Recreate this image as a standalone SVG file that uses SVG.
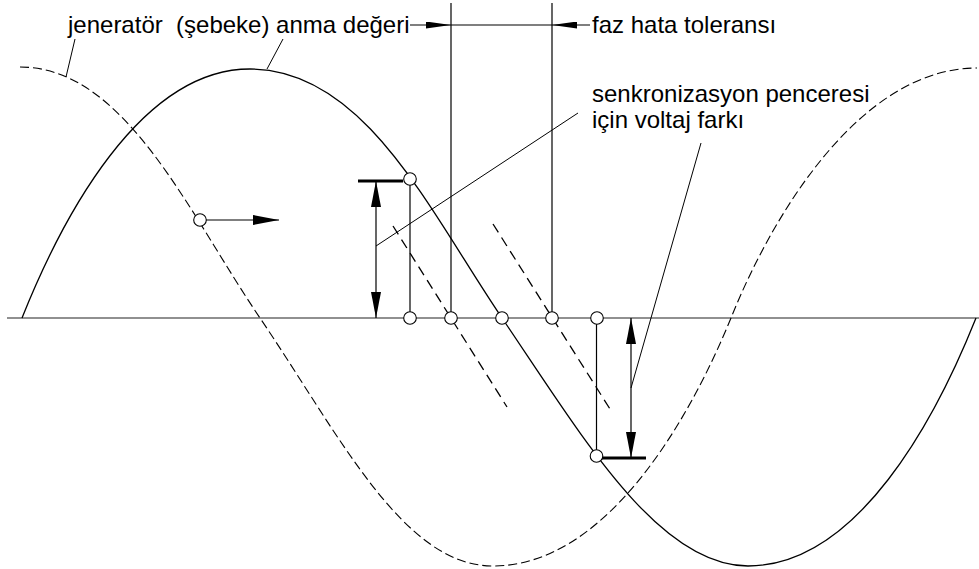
<svg xmlns="http://www.w3.org/2000/svg" width="979" height="569" viewBox="0 0 979 569">
<style>
.t{font-family:"Liberation Sans",Arial,sans-serif;font-size:24px;fill:#000;white-space:pre}
.ln{stroke:#000;stroke-width:1.2;fill:none}
.thin{stroke:#000;stroke-width:1;fill:none}
.axis{stroke:#222;stroke-width:1.1;fill:none}
.wave{stroke:#000;stroke-width:1.3;fill:none}
.dwave{stroke:#000;stroke-width:1.1;fill:none;stroke-dasharray:9 4}
.dl{stroke:#000;stroke-width:1.3;fill:none;stroke-dasharray:10 6}
.tick{stroke:#000;stroke-width:3;fill:none}
.pt{fill:#fff;stroke:#000;stroke-width:1.1}
</style>
<defs>
<marker id="ah" viewBox="0 0 26 10" refX="26" refY="5" markerWidth="26" markerHeight="10" markerUnits="userSpaceOnUse" orient="auto-start-reverse"><path d="M0,0 L26,5 L0,10 z" fill="#000"/></marker>
<marker id="ahs" viewBox="0 0 25 7" refX="25" refY="3.5" markerWidth="25" markerHeight="7" markerUnits="userSpaceOnUse" orient="auto-start-reverse"><path d="M0,0 L25,3.5 L0,7 z" fill="#000"/></marker>
</defs>
<rect width="979" height="569" fill="#fff"/>
<g id="axis"><line x1="7" y1="318" x2="979" y2="318" class="axis"/></g>
<g id="wave-solid"><path class="wave" d="M22,318 C62,218 140,69 250,69 C365,69 430,212 502,318 C582,436 658,566 748,566 C858,566 936,418 976,318"/></g>
<g id="wave-dashed"><path class="dwave" d="M20,67 C125,67 188,212 260,318 C340,436 403,566 493,566 C603,566 686,428 731,318 C771,218 859,68 977,68"/></g>
<g id="window-lines">
<path class="dl" d="M393,226 L507,407"/>
<path class="dl" d="M493,224 L610,409"/>
</g>
<g id="connectors">
<path class="ln" d="M410,25 H451" marker-end="url(#ahs)"/>
<path class="ln" d="M451,25 H552"/>
<path class="ln" d="M590,25 H552" marker-end="url(#ahs)"/>
<path class="ln" d="M451,3 V318"/>
<path class="ln" d="M552,3 V318"/>
<path class="ln" d="M376,181 V318" marker-start="url(#ah)" marker-end="url(#ah)"/>
<path class="tick" d="M358,181 H403"/>
<path class="ln" d="M410,179 V318"/>
<path class="ln" d="M596.5,318 V456"/>
<path class="ln" d="M631,318 V458" marker-start="url(#ah)" marker-end="url(#ah)"/>
<path class="tick" d="M602,458 H646"/>
<path class="ln" d="M206,220 H279" marker-end="url(#ah)"/>
<path class="thin" d="M75,39 L66,77"/>
<path class="thin" d="M283,39 L267,69"/>
<path class="thin" d="M578,113 L376,246"/>
<path class="thin" d="M701,143 L631,388"/>
</g>
<g id="points">
<circle class="pt" cx="200" cy="220" r="6.3"/>
<circle class="pt" cx="410" cy="179" r="6.3"/>
<circle class="pt" cx="410" cy="318" r="6.3"/>
<circle class="pt" cx="451" cy="318" r="6.3"/>
<circle class="pt" cx="502" cy="318" r="6.3"/>
<circle class="pt" cx="552" cy="318" r="6.3"/>
<circle class="pt" cx="597" cy="318" r="6.3"/>
<circle class="pt" cx="596.5" cy="456" r="6.3"/>
</g>
<g id="labels">
<text class="t" x="68" y="33" xml:space="preserve">jeneratör  (şebeke) anma değeri</text>
<text class="t" x="592" y="33">faz hata toleransı</text>
<text class="t" x="592" y="102">senkronizasyon penceresi</text>
<text class="t" x="592" y="128">için voltaj farkı</text>
</g>
</svg>
